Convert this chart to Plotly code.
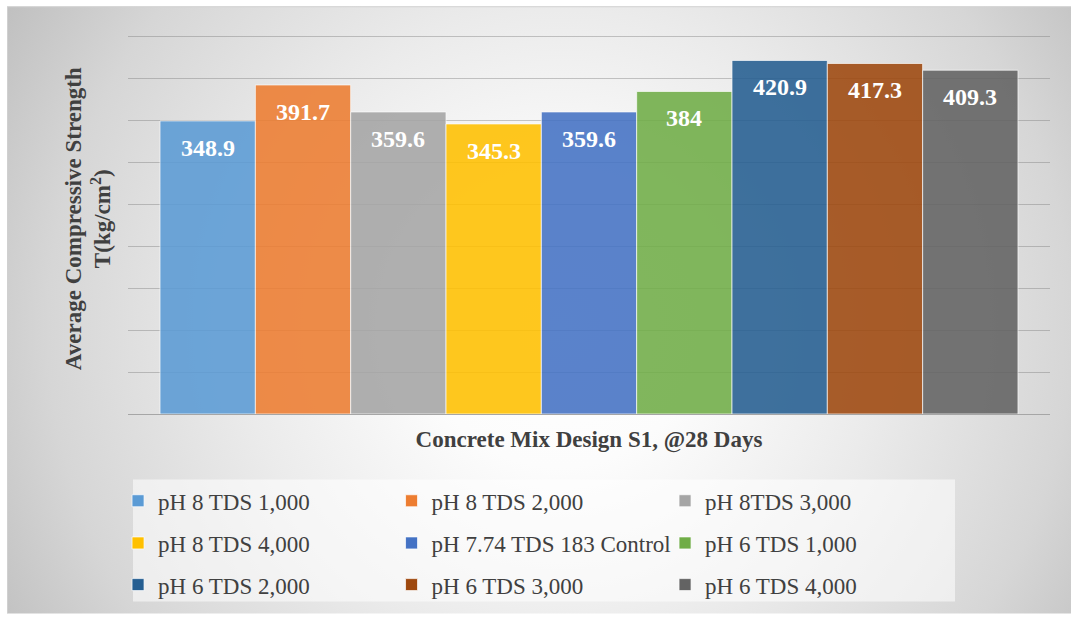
import base64
import plotly.graph_objects as go

MIXES = [
    "pH 8 TDS 1,000",
    "pH 8 TDS 2,000",
    "pH 8TDS 3,000",
    "pH 8 TDS 4,000",
    "pH 7.74 TDS 183 Control",
    "pH 6 TDS 1,000",
    "pH 6 TDS 2,000",
    "pH 6 TDS 3,000",
    "pH 6 TDS 4,000",
]
STRENGTH = [348.9, 391.7, 359.6, 345.3, 359.6, 384, 420.9, 417.3, 409.3]
COLORS = [
    "#5b9bd5", "#ed7d31", "#a5a5a5", "#ffc000", "#4472c4",
    "#70ad47", "#255e91", "#9e480e", "#636363",
]

W, H = 1071, 618
L, R, T, B = 128, 21, 35, 201
PW, PH = W - L - R, H - T - B
SERIF = "Liberation Serif, Times New Roman, serif"

# gradient chart area + legend box, drawn as an inline svg background
svg = f"""<svg xmlns="http://www.w3.org/2000/svg" width="{W}" height="{H}" viewBox="0 0 {W} {H}">
<defs><radialGradient id="g" gradientUnits="userSpaceOnUse" cx="560" cy="330" r="640">
<stop offset="0" stop-color="#ffffff"/><stop offset="0.22" stop-color="#fcfcfc"/>
<stop offset="0.5" stop-color="#ebebeb"/><stop offset="0.8" stop-color="#d6d6d6"/>
<stop offset="1" stop-color="#c0c0c0"/></radialGradient></defs>
<rect width="{W}" height="{H}" fill="#ffffff"/>
<rect x="7.5" y="6.5" width="1070" height="620" fill="url(#g)" stroke="#d0d0d0"/>
<rect x="133" y="483" width="822" height="123" fill="#ffffff" fill-opacity="0.55"/>
</svg>"""
bg_src = "data:image/svg+xml;base64," + base64.b64encode(svg.encode()).decode()

fig = go.Figure()
for i, (name, val, col) in enumerate(zip(MIXES, STRENGTH, COLORS)):
    fig.add_trace(go.Bar(
        x=[i], y=[val], name=name, width=1,
        marker=dict(color=col, opacity=0.88,
                    line=dict(color="rgba(255,255,255,0.7)", width=1)),
        legend=["legend", "legend2", "legend3"][i // 3],
        hoverinfo="name+y",
    ))
    fig.add_annotation(
        x=i, y=val, text=f"<b>{val:g}</b>", showarrow=False,
        yshift=-27, font=dict(family=SERIF, size=24, color="white"),
    )

leg_common = dict(
    orientation="h", xanchor="left", yanchor="middle", x=-0.0108,
    entrywidth=228.5, bgcolor="rgba(0,0,0,0)",
    font=dict(family=SERIF, size=23, color="#404040"),
)
row_y = [504.5, 547, 589]

fig.update_layout(
    width=W, height=H, autosize=False,
    margin=dict(l=L, r=R, t=T, b=B),
    paper_bgcolor="white", plot_bgcolor="rgba(0,0,0,0)",
    barmode="overlay",
    images=[dict(
        source=bg_src, xref="paper", yref="paper",
        x=-L / PW, y=1 + T / PH, sizex=W / PW, sizey=H / PH,
        xanchor="left", yanchor="top", sizing="stretch", layer="below",
    )],
    xaxis=dict(
        range=[-0.836, 8.836], showticklabels=False, showgrid=False,
        zeroline=False, showline=True, linecolor="#a6a6a6", linewidth=1,
        title=dict(text="<b>Concrete Mix Design S1, @28 Days</b>",
                   font=dict(family=SERIF, size=23, color="#404040"), standoff=16),
    ),
    yaxis=dict(
        range=[0, 451.2], dtick=50, showticklabels=False,
        gridcolor="rgba(120,120,120,0.4)", gridwidth=1, zeroline=False,
        title=dict(text="<b>&nbsp;&nbsp;Average Compressive Strength<br>"
                        "&nbsp;&nbsp;T(kg/cm<sup>2</sup>)</b>",
                   font=dict(family=SERIF, size=23, color="#404040"), standoff=9),
    ),
    legend=dict(leg_common, y=(417 - row_y[0]) / PH),
    legend2=dict(leg_common, y=(417 - row_y[1]) / PH),
    legend3=dict(leg_common, y=(417 - row_y[2]) / PH),
    showlegend=True,
)

fig.write_html(
    "out.html",
    config={"displayModeBar": False},
    post_script="document.body.style.margin='0px';"
                "document.documentElement.style.overflow='hidden';",
)
